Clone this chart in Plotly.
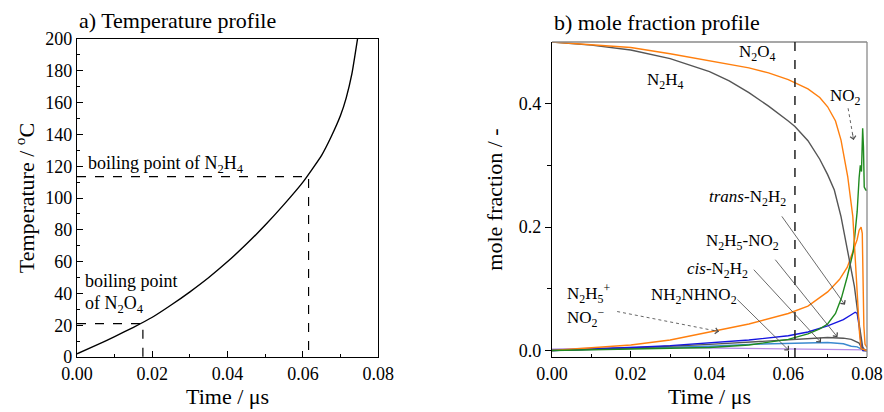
import plotly.graph_objects as go

# ---------------- data: a) temperature profile ----------------
temp_time = [0.0, 0.005, 0.01, 0.015, 0.02, 0.025, 0.03, 0.035, 0.04, 0.045,
             0.05, 0.055, 0.06, 0.065, 0.0675, 0.07, 0.0715, 0.073, 0.0745]
temp_val = [2, 7.3, 12.8, 18.7, 25, 32.7, 41, 50, 60, 71,
            83, 96, 110, 127, 138.5, 152, 163, 178, 200]
bp_n2o4 = (0.0175, 21)
bp_n2h4 = (0.0615, 113.5)

# ---------------- data: b) mole fraction profile ----------------
t_n2h4 = [0.0, 0.01, 0.02, 0.03, 0.04, 0.045, 0.05, 0.055, 0.06, 0.0617, 0.065, 0.068,
          0.07, 0.0717, 0.0734, 0.0751, 0.0768, 0.0781, 0.0789, 0.0795, 0.08]
x_n2h4 = [0.5, 0.495, 0.487, 0.473, 0.452, 0.437, 0.418, 0.396, 0.372, 0.363, 0.34, 0.31,
          0.285, 0.26, 0.217, 0.163, 0.104, 0.039, 0.006, 0.0, 0.0]

t_n2o4 = [0.0, 0.01, 0.02, 0.03, 0.04, 0.05, 0.055, 0.06, 0.065, 0.068, 0.07, 0.072,
          0.0734, 0.0751, 0.0764, 0.0772, 0.0778, 0.0781, 0.0785, 0.08]
x_n2o4 = [0.5, 0.496, 0.491, 0.481, 0.469, 0.458, 0.45, 0.439, 0.424, 0.41, 0.395, 0.372,
          0.341, 0.282, 0.217, 0.125, 0.06, 0.028, 0.003, 0.0]

t_no2 = [0.0, 0.02, 0.04, 0.05, 0.055, 0.06, 0.065, 0.068, 0.07, 0.072, 0.0735, 0.075,
         0.0765, 0.0775, 0.078, 0.0783, 0.0786, 0.0789, 0.0791, 0.0793, 0.0797, 0.08]
x_no2 = [0.0, 0.002, 0.005, 0.009, 0.013, 0.018, 0.027, 0.035, 0.043, 0.06, 0.085, 0.12,
         0.16, 0.225, 0.28, 0.3, 0.29, 0.36, 0.33, 0.265, 0.26, 0.26]

t_salt = [0.0, 0.01, 0.02, 0.03, 0.04, 0.05, 0.06, 0.065, 0.07, 0.073, 0.075, 0.0765,
          0.0775, 0.078, 0.0785, 0.0788, 0.079, 0.0792, 0.0795, 0.08]
x_salt = [0.0, 0.004, 0.009, 0.017, 0.03, 0.043, 0.06, 0.072, 0.095, 0.115, 0.135, 0.16,
          0.18, 0.195, 0.2, 0.19, 0.12, 0.04, 0.01, 0.005]

t_trans = [0.0, 0.01, 0.02, 0.03, 0.04, 0.05, 0.06, 0.065, 0.07, 0.074, 0.076, 0.077,
           0.0775, 0.078, 0.0785, 0.079, 0.08]
x_trans = [0.0, 0.002, 0.005, 0.008, 0.012, 0.017, 0.024, 0.03, 0.04, 0.05, 0.058, 0.062,
           0.06, 0.04, 0.01, 0.0, 0.0]

t_n2h5no2 = [0.0, 0.02, 0.04, 0.05, 0.06, 0.065, 0.07, 0.074, 0.076, 0.078, 0.079, 0.08]
x_n2h5no2 = [0.0, 0.004, 0.01, 0.014, 0.018, 0.02, 0.021, 0.02, 0.018, 0.012, 0.0, 0.0]

t_cis = [0.0, 0.02, 0.04, 0.05, 0.06, 0.065, 0.07, 0.074, 0.076, 0.0775, 0.079, 0.08]
x_cis = [0.0, 0.003, 0.007, 0.01, 0.012, 0.013, 0.013, 0.011, 0.007, 0.006, 0.001, 0.0]

t_nitramine = [0.0, 0.01, 0.02, 0.03, 0.04, 0.05, 0.06, 0.07, 0.08]
x_nitramine = [0.002, 0.004, 0.005, 0.005, 0.004, 0.003, 0.002, 0.001, 0.001]

FONT = "Liberation Serif"
BLACK = "#000000"

fig = go.Figure()

# a) temperature
fig.add_trace(go.Scatter(x=temp_time, y=temp_val, mode="lines",
                         line=dict(color=BLACK, width=1.4, shape="spline", smoothing=0.5),
                         xaxis="x", yaxis="y", showlegend=False))
for (tb, Tb) in (bp_n2o4, bp_n2h4):
    fig.add_trace(go.Scatter(x=[0, tb, tb], y=[Tb, Tb, 0], mode="lines",
                             line=dict(color=BLACK, width=1.2, dash="dash"),
                             xaxis="x", yaxis="y", showlegend=False))

# b) mole fractions
series = [
    (t_nitramine, x_nitramine, "#b48ae6"),
    (t_cis, x_cis, "#3a8ad0"),
    (t_n2h5no2, x_n2h5no2, "#555555"),
    (t_trans, x_trans, "#1515e0"),
    (t_salt, x_salt, "#ff7f0e"),
    (t_no2, x_no2, "#1f8a1f"),
    (t_n2h4, x_n2h4, "#555555"),
    (t_n2o4, x_n2o4, "#ff7f0e"),
]
for tx, yv, col in series:
    fig.add_trace(go.Scatter(x=tx, y=yv, mode="lines", line=dict(color=col, width=1.4),
                             xaxis="x2", yaxis="y2", showlegend=False))


def tf():
    return dict(family=FONT, size=18, color=BLACK)


def ttf():
    return dict(family=FONT, size=22, color=BLACK)


fig.update_layout(
    template="none",
    width=884, height=412,
    margin=dict(l=77, r=17, t=39, b=55),
    paper_bgcolor="white", plot_bgcolor="white",
    font=dict(family=FONT, color=BLACK, size=18),
    xaxis=dict(domain=[0, 0.3813], range=[0, 0.08], tickvals=[0, 0.02, 0.04, 0.06, 0.08],
               ticktext=["0.00", "0.02", "0.04", "0.06", "0.08"], automargin=False,
               ticks="inside", ticklen=6, tickcolor=BLACK, tickwidth=1,
               minor=dict(dtick=0.01, ticks="inside", ticklen=3, tickcolor=BLACK, showgrid=False),
               showline=True, linecolor=BLACK, linewidth=1.3, mirror=True, showgrid=False, zeroline=False,
               tickfont=tf(), title=dict(text="Time / μs", font=ttf(), standoff=4), anchor="y"),
    yaxis=dict(domain=[0, 1], range=[0, 200], dtick=20, automargin=False,
               ticks="inside", ticklen=6, tickcolor=BLACK,
               minor=dict(dtick=10, ticks="inside", ticklen=3, tickcolor=BLACK, showgrid=False),
               showline=True, linecolor=BLACK, linewidth=1.3, mirror=True, showgrid=False, zeroline=False,
               tickfont=tf(), title=dict(text="Temperature / <sup>o</sup>C", font=ttf(), standoff=4), anchor="x"),
    xaxis2=dict(domain=[0.6013, 1.0], range=[0, 0.08], tickvals=[0, 0.02, 0.04, 0.06, 0.08],
                ticktext=["0.00", "0.02", "0.04", "0.06", "0.08"], automargin=False,
                ticks="inside", ticklen=6, tickcolor=BLACK,
                minor=dict(dtick=0.01, ticks="inside", ticklen=3, tickcolor=BLACK, showgrid=False),
                showline=True, linecolor=BLACK, linewidth=1.3, showgrid=False, zeroline=False,
                tickfont=tf(), title=dict(text="Time / μs", font=ttf(), standoff=4), anchor="y2"),
    yaxis2=dict(domain=[0, 0.9906], range=[-0.0105, 0.5], tickvals=[0.0, 0.2, 0.4],
                ticktext=["0.0", "0.2", "0.4"], automargin=False,
                ticks="outside", ticklen=6, tickcolor=BLACK,
                minor=dict(tickvals=[0.1, 0.3], ticks="outside", ticklen=4, tickcolor=BLACK, showgrid=False),
                showline=True, linecolor=BLACK, linewidth=1.3, showgrid=False, zeroline=False,
                tickfont=tf(), title=dict(text="mole fraction / -", font=ttf(), standoff=10), anchor="x2"),
)

shapes = [
    # gray top/right frame of panel b
    dict(type="line", xref="x2 domain", yref="y2 domain", x0=0, x1=1, y0=1, y1=1, line=dict(color="#8a8a8a", width=1.3)),
    dict(type="line", xref="x2 domain", yref="y2 domain", x0=1, x1=1, y0=0, y1=1, line=dict(color="#8a8a8a", width=1.3)),
    # vertical dashed line at N2H4 boiling point time
    dict(type="line", xref="x2", yref="y2 domain", x0=0.0617, x1=0.0617, y0=0, y1=1,
         line=dict(color="#222222", width=1.5, dash="dash")),
    # dashed arrow shafts
    dict(type="line", xref="x2", yref="y2", x0=0.0752, y0=0.3926, x1=0.0766, y1=0.3412,
         line=dict(color="#555555", width=0.9, dash="dot")),
    dict(type="line", xref="x2", yref="y2", x0=0.01654, y0=0.0632, x1=0.0424, y1=0.0308,
         line=dict(color="#555555", width=0.9, dash="dot")),
]
fig.update_layout(shapes=shapes)

annos = []
# titles
annos.append(dict(text="a) Temperature profile", xref="paper", yref="paper", x=0, y=1.0, xanchor="left", yanchor="bottom",
                  yshift=4, showarrow=False, font=ttf()))
annos.append(dict(text="b) mole fraction profile", xref="x2 domain", yref="paper", x=0, y=1.0, xanchor="left", yanchor="bottom",
                  yshift=2, showarrow=False, font=ttf()))

af = dict(family=FONT, size=18, color=BLACK)
# panel a labels
annos.append(dict(text="boiling point of N<sub>2</sub>H<sub>4</sub>", xref="x", yref="y", x=0.0025, y=121,
                  xanchor="left", yanchor="middle", showarrow=False, font=af))
annos.append(dict(text="boiling point", xref="x", yref="y", x=0.0015, y=47.5,
                  xanchor="left", yanchor="middle", showarrow=False, font=af))
annos.append(dict(text="of N<sub>2</sub>O<sub>4</sub>", xref="x", yref="y", x=0.0015, y=33,
                  xanchor="left", yanchor="middle", showarrow=False, font=af))

bf = dict(family=FONT, size=17, color=BLACK)
labels_b = [
    ("N<sub>2</sub>O<sub>4</sub>", 0.0522, 0.482, "center"),
    ("N<sub>2</sub>H<sub>4</sub>", 0.0288, 0.437, "center"),
    ("NO<sub>2</sub>", 0.0746, 0.411, "center"),
    ("<i>trans</i>-N<sub>2</sub>H<sub>2</sub>", 0.0496, 0.247, "center"),
    ("N<sub>2</sub>H<sub>5</sub>-NO<sub>2</sub>", 0.0484, 0.1765, "center"),
    ("<i>cis</i>-N<sub>2</sub>H<sub>2</sub>", 0.042, 0.1307, "center"),
    ("NH<sub>2</sub>NHNO<sub>2</sub>", 0.036, 0.0886, "center"),
    ("N<sub>2</sub>H<sub>5</sub><sup>+</sup>", 0.0033, 0.0918, "left"),
    ("NO<sub>2</sub><sup>−</sup>", 0.0033, 0.053, "left"),
]
for txt, xx, yy, anc in labels_b:
    annos.append(dict(text=txt, xref="x2", yref="y2", x=xx, y=yy, xanchor=anc, yanchor="middle",
                      showarrow=False, font=bf))

# solid thin arrows (tail -> tip)
arrows = [
    ((0.0581, 0.2198), (0.0744, 0.074)),
    ((0.0564, 0.1496), (0.0725, 0.0217)),
    ((0.0509, 0.1334), (0.0683, 0.013)),
    ((0.0467, 0.0849), (0.0602, 0.0)),
]
for (x0, y0), (x1, y1) in arrows:
    annos.append(dict(text="", xref="x2", yref="y2", x=x1, y=y1, axref="x2", ayref="y2", ax=x0, ay=y0,
                      showarrow=True, arrowhead=4, arrowsize=1.4, arrowwidth=0.8, arrowcolor="#444444", standoff=0))
# arrowheads for the dashed arrows
annos.append(dict(text="", xref="x2", yref="y2", x=0.0766, y=0.3412, ax=-1.4, ay=-7.9,
                  showarrow=True, arrowhead=4, arrowsize=1.4, arrowwidth=0.8, arrowcolor="#555555", standoff=0))
annos.append(dict(text="", xref="x2", yref="y2", x=0.0424, y=0.0308, ax=-7.8, ay=-1.5,
                  showarrow=True, arrowhead=4, arrowsize=1.4, arrowwidth=0.8, arrowcolor="#555555", standoff=0))

fig.update_layout(annotations=annos)

fig.write_html("out.html", config={"displayModeBar": False},
               post_script="document.body.style.margin='0px';")
